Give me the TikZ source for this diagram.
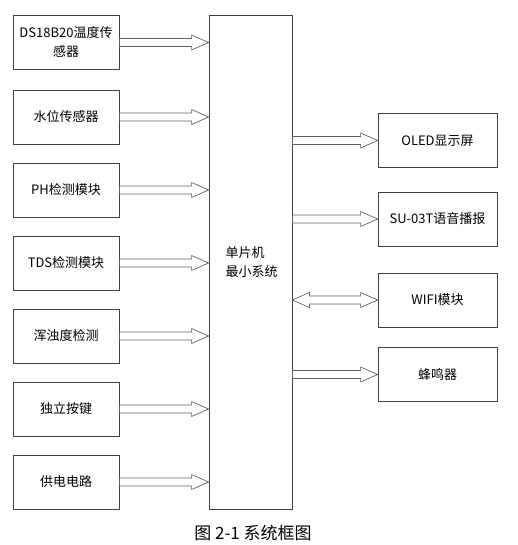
\documentclass[tikz,border=0pt]{standalone}
\usepackage{fontspec}
\setmainfont{Noto Sans CJK SC}
\usetikzlibrary{calc}
\definecolor{edge}{HTML}{404040}
\definecolor{shaft}{HTML}{606060}

\begin{document}
\begin{tikzpicture}[x=1pt, y=-1pt, font=\fontsize{13}{19}\selectfont,
  box/.style={draw=edge, line width=0.8pt, minimum width=106pt, minimum height=54pt, align=center, inner sep=0pt},
  rbox/.style={box, minimum width=119pt},
  barrow/.style={draw=shaft, line width=0.7pt, fill=white}]
\useasboundingbox (0,0) rectangle (517,545);
\newcommand{\blk}[2]{% from, to (same height)
  \path[barrow] let \p1=(#1), \p2=(#2) in
    (\x1,\y1+4) -- (\x2-17,\y1+4) -- (\x2-17,\y1+7.5) -- (\x2,\y1) -- (\x2-17,\y1-7.5)
    -- (\x2-17,\y1-4) -- (\x1,\y1-4) -- cycle;}
\newcommand{\dblk}[2]{% from, to, tips at both ends
  \path[barrow] let \p1=(#1), \p2=(#2) in
    (\x1,\y1) -- (\x1+17,\y1+7.5) -- (\x1+17,\y1+4) -- (\x2-17,\y1+4) -- (\x2-17,\y1+7.5)
    -- (\x2,\y1) -- (\x2-17,\y1-7.5) -- (\x2-17,\y1-4) -- (\x1+17,\y1-4) -- (\x1+17,\y1-7.5) -- cycle;}
% main controller
\node[box, minimum width=83pt, minimum height=494pt] (mcu) at (250.5,262) {};
\node[anchor=west, align=left] (mcutext) at (222,262) {单片机\\最小系统};
% inputs
\foreach \id/\yy/\txt in {ds/42.5/{DS18B20温度传\\感器}, lvl/117/水位传感器, ph/190/PH检测模块,
    tds/263/TDS检测模块, turb/336/浑浊度检测, key/409/独立按键, pwr/482/供电电路} {
  \node[box] (\id) at (66,\yy) {\txt};
  \blk{\id.east}{mcu.west |- \id.east}}
% outputs
\foreach \id/\yy/\txt in {oled/140.5/OLED显示屏, voice/219/SU-03T语音播报, buzz/374.5/蜂鸣器} {
  \node[rbox] (\id) at (437.5,\yy) {\txt};
  \blk{mcu.east |- \id.west}{\id.west}}
\node[rbox] (wifi) at (437.5,300) {WIFI模块};
\dblk{mcu.east |- wifi.west}{wifi.west}
\node[font=\fontsize{17}{20}\selectfont] (cap) at (253,533) {图 2-1 系统框图};
\end{tikzpicture}
\end{document}
